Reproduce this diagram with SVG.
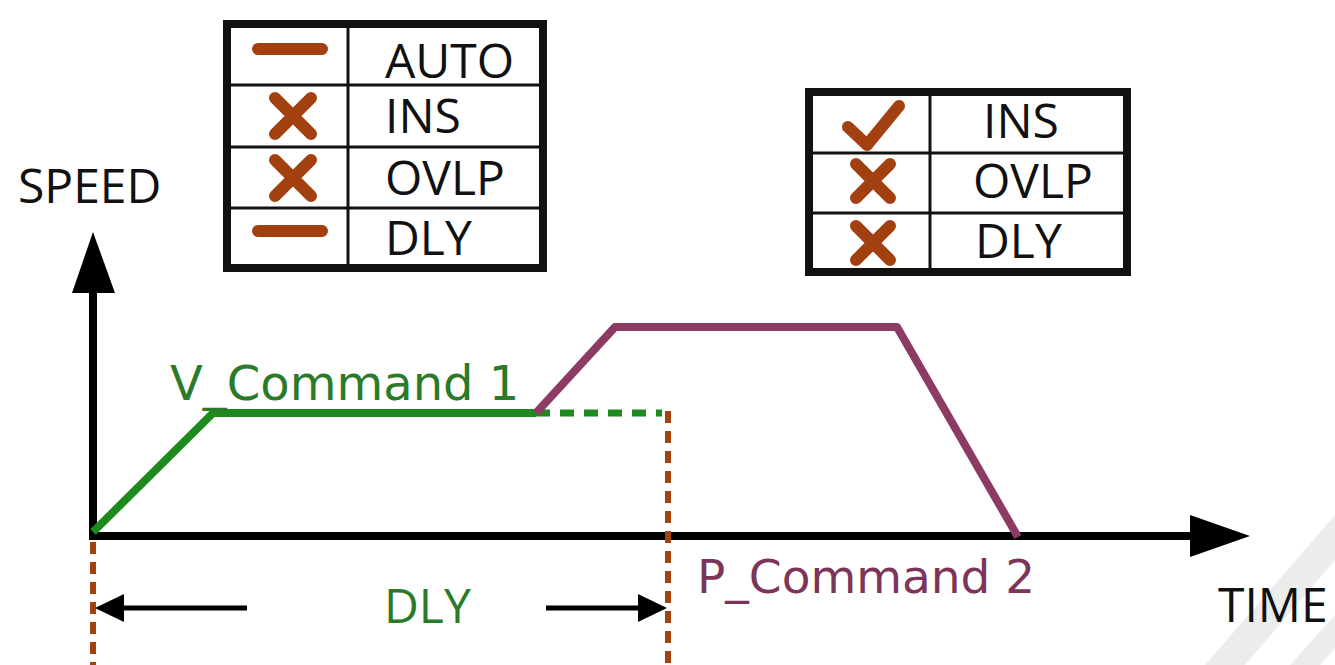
<svg xmlns="http://www.w3.org/2000/svg" width="1335" height="665" viewBox="0 0 1335 665">
<style>
.lbl{font-family:"Open Sans","Liberation Sans",sans-serif;font-size:48px;fill:#111}
.cmd{font-family:"DejaVu Sans","Liberation Sans",sans-serif}
.box{fill:#fff;stroke:#111;stroke-width:8}
.grid{stroke:#111;stroke-width:3}
.ic{stroke:#a3400f;stroke-width:12;stroke-linecap:round;stroke-linejoin:round;fill:none}
.ax{stroke:#000;stroke-width:8}
.reddash{stroke:#a3410f;stroke-width:6;stroke-dasharray:12 8;fill:none}
</style>
<rect width="1335" height="665" fill="#fff"/>
<g id="watermark" fill="#ececec">
<polygon points="1205,665 1245,665 1335,560 1335,515"/>
<polygon points="1290,665 1320,665 1335,648 1335,615"/>
</g>
<g id="table-left">
<rect class="box" x="227" y="24" width="316" height="244"/>
<line class="grid" x1="348" y1="24" x2="348" y2="268"/>
<line class="grid" x1="227" y1="85" x2="543" y2="85"/>
<line class="grid" x1="227" y1="147" x2="543" y2="147"/>
<line class="grid" x1="227" y1="208" x2="543" y2="208"/>
<line class="ic" x1="258" y1="49" x2="322" y2="49"/>
<path class="ic" d="M275,98 L311,134 M311,98 L275,134"/>
<path class="ic" d="M275,160 L311,196 M311,160 L275,196"/>
<line class="ic" x1="258" y1="231" x2="322" y2="231"/>
<text class="lbl" x="385" y="78">AUTO</text>
<text class="lbl" x="385" y="133">INS</text>
<text class="lbl" x="385" y="195">OVLP</text>
<text class="lbl" x="385" y="255">DLY</text>
</g>
<g id="table-right">
<rect class="box" x="809" y="92" width="318" height="180"/>
<line class="grid" x1="930" y1="92" x2="930" y2="272"/>
<line class="grid" x1="809" y1="153" x2="1127" y2="153"/>
<line class="grid" x1="809" y1="213" x2="1127" y2="213"/>
<polyline class="ic" points="848,127 867,145 899,106"/>
<path class="ic" d="M856,164 L890,198 M890,164 L856,198"/>
<path class="ic" d="M856,226 L890,260 M890,226 L856,260"/>
<text class="lbl" x="983" y="138">INS</text>
<text class="lbl" x="973" y="198">OVLP</text>
<text class="lbl" x="975" y="258">DLY</text>
</g>
<g id="axes">
<line class="ax" x1="93" y1="540" x2="93" y2="288"/>
<polygon points="93,232 72,293 115,293" fill="#000"/>
<line class="ax" x1="89" y1="536" x2="1195" y2="536"/>
<polygon points="1250,536 1190,515 1190,557" fill="#000"/>
<text class="lbl" x="18" y="203">SPEED</text>
<text class="lbl" x="1218" y="622">TIME</text>
</g>
<g id="connectors">
<line class="reddash" x1="93" y1="542" x2="93" y2="665"/>
<line class="reddash" x1="668" y1="411" x2="668" y2="665"/>
<polyline points="93,532 213,413 536,413" fill="none" stroke="#1d8a1d" stroke-width="8" stroke-linejoin="round"/>
<line x1="536" y1="413" x2="662" y2="413" stroke="#1d8a1d" stroke-width="7" stroke-dasharray="14 10"/>
<polyline points="536,413 615,327 897,327 1018,537" fill="none" stroke="#8d3b64" stroke-width="8" stroke-linejoin="round"/>
<line x1="247" y1="608" x2="120" y2="608" stroke="#000" stroke-width="5"/>
<polygon points="95,608 124,594 124,622" fill="#000"/>
<line x1="546" y1="608" x2="642" y2="608" stroke="#000" stroke-width="5"/>
<polygon points="667,608 638,594 638,622" fill="#000"/>
</g>
<g id="labels">
<text class="cmd" x="170" y="400" font-size="48" fill="#2a7a2a">V_Command 1</text>
<text class="cmd" x="697" y="593" font-size="47" fill="#7c3558">P_Command 2</text>
<text class="lbl" x="384" y="623" style="fill:#2a7a2a">DLY</text>
</g>
</svg>
